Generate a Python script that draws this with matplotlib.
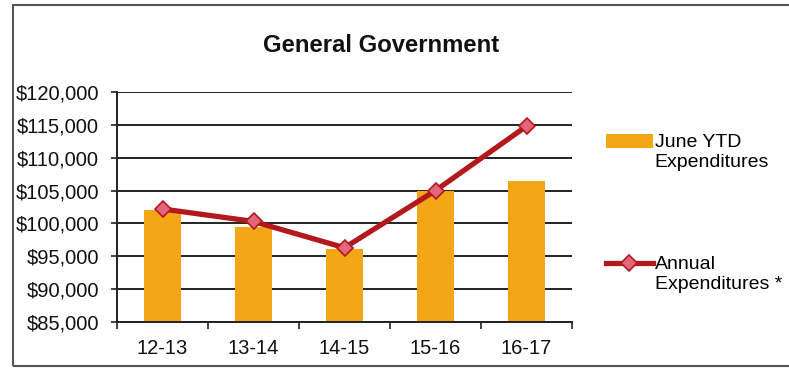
import numpy as np
import matplotlib
matplotlib.use('Agg')
import matplotlib.pyplot as plt
from matplotlib.patches import Rectangle
from matplotlib.ticker import FuncFormatter

plt.rcParams['font.family'] = ['Liberation Sans', 'DejaVu Sans']

years = ['12-13', '13-14', '14-15', '15-16', '16-17']
june_ytd = [102000, 99500, 96100, 105000, 106500]
annual = [102200, 100300, 96300, 105000, 114800]

bar_color = '#F3A716'
line_color = '#B3191C'
marker_face = '#E2677C'

fig = plt.figure(figsize=(7.89, 3.68), dpi=100)
ax = fig.add_axes([117 / 789, 1 - 322 / 368, 455 / 789, 230 / 368])

x = np.arange(len(years))
bars = ax.bar(x, june_ytd, width=0.4, color=bar_color, label='June YTD\nExpenditures', zorder=2)
line, = ax.plot(x, annual, color=line_color, lw=3.8, marker='D', ms=8.5,
                mfc=marker_face, mec=line_color, mew=1.2,
                label='Annual\nExpenditures *', zorder=3)

ax.set_xlim(-0.5, len(years) - 0.5)
ax.set_ylim(85000, 120000)
ax.set_yticks(np.arange(85000, 120001, 5000))
ax.yaxis.set_major_formatter(FuncFormatter(lambda v, p: '${:,.0f}'.format(v)))
ax.set_xticks(x)
ax.set_xticklabels(years)
ax.set_xticks(np.arange(-0.5, len(years), 1.0), minor=True)
ax.tick_params(axis='x', which='major', length=0, pad=12.5, labelsize=14.5, colors='#111111')
ax.tick_params(axis='x', which='minor', length=5, width=1.2, direction='out', color='#222222')
ax.tick_params(axis='y', length=4, width=1.2, pad=9, labelsize=14.5,
               color='#222222', labelcolor='#111111')

ax.grid(axis='y', color='#222222', lw=1.4, zorder=0)
ax.set_axisbelow(True)
for s in ['top', 'right']:
    ax.spines[s].set_visible(False)
for s in ['left', 'bottom']:
    ax.spines[s].set_color('#222222')
    ax.spines[s].set_linewidth(1.4)

fig.text(381 / 789, 1 - 45 / 368, 'General Government', ha='center', va='center',
         fontsize=17.2, fontweight='bold', color='#111111')

leg = ax.legend(handles=[bars, line], loc='upper left',
                bbox_to_anchor=(606 / 789, 1 - 134 / 368),
                bbox_transform=fig.transFigure, frameon=False, fontsize=14,
                labelspacing=4.4, handlelength=2.4, handletextpad=0.1,
                borderaxespad=0, borderpad=0)
for col in leg._legend_handle_box.get_children():
    for row in col.get_children():
        row.align = 'top'

fig.add_artist(Rectangle((13 / 789, 2 / 368), 0.99, 1 - 7 / 368,
                         transform=fig.transFigure, fill=False,
                         edgecolor='#555555', lw=1.5))

fig.savefig('out.png', dpi=100)
